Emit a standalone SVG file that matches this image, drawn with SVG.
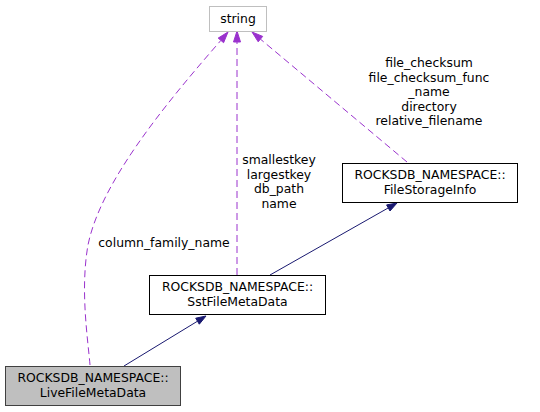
<svg xmlns="http://www.w3.org/2000/svg" width="540" height="412" viewBox="0 0 540 412">
<style>
text{font-family:"DejaVu Sans",sans-serif;font-size:12.4px;fill:#000;text-anchor:middle}
.box{fill:#fff;stroke:#000;stroke-width:1}
.dash{fill:none;stroke:#9a32cd;stroke-width:1;stroke-dasharray:7,4}
.dh{fill:#9a32cd;stroke:#9a32cd}
.sol{fill:none;stroke:#191970;stroke-width:1}
.sh{fill:#191970;stroke:#191970}
</style>
<rect width="540" height="412" fill="#fff"/>
<g id="edges">
<path class="sol" d="M124,366 L197.5,321.2"/>
<polygon class="sh" points="206,316 199.3,324.2 195.7,318.2"/>
<path class="sol" d="M270,275 L388.3,207.9"/>
<polygon class="sh" points="397,203 390,211 386.6,204.9"/>
<path class="dash" d="M237,275 L237,42"/>
<polygon class="dh" points="237,31 240.5,42 233.5,42"/>
<path class="dash" d="M90,365 C88,340 80,290 88,245 C100,185 160,110 220.9,40.4"/>
<polygon class="dh" points="228,32 223.6,42.7 218.2,38.1"/>
<path class="dash" d="M407,162 L260.4,39.1"/>
<polygon class="dh" points="252,32 262.7,36.4 258.2,41.8"/>
<text x="164" y="246.5">column_family_name</text>
<text x="279" y="164">smallestkey</text>
<text x="279" y="178.5">largestkey</text>
<text x="279" y="193">db_path</text>
<text x="279" y="207.5">name</text>
<text x="429" y="67">file_checksum</text>
<text x="429" y="81.5">file_checksum_func</text>
<text x="429" y="96">_name</text>
<text x="429" y="110.5">directory</text>
<text x="429" y="125">relative_filename</text>
</g>
<g id="node_string">
<rect x="209.5" y="6.5" width="57" height="25" fill="#fff" stroke="#bfbfbf"/>
<text x="238" y="23">string</text>
</g>
<g id="node_filestorageinfo">
<rect class="box" x="342.5" y="163.5" width="175" height="39"/>
<text x="430" y="179">ROCKSDB_NAMESPACE::</text>
<text x="430" y="194">FileStorageInfo</text>
</g>
<g id="node_sstfilemetadata">
<rect class="box" x="149.5" y="275.5" width="176" height="39"/>
<text x="237.5" y="291">ROCKSDB_NAMESPACE::</text>
<text x="237.5" y="306">SstFileMetaData</text>
</g>
<g id="node_livefilemetadata">
<rect x="5.5" y="366.5" width="175" height="39" fill="#bfbfbf" stroke="#404040"/>
<text x="93" y="382">ROCKSDB_NAMESPACE::</text>
<text x="93" y="397">LiveFileMetaData</text>
</g>
</svg>
